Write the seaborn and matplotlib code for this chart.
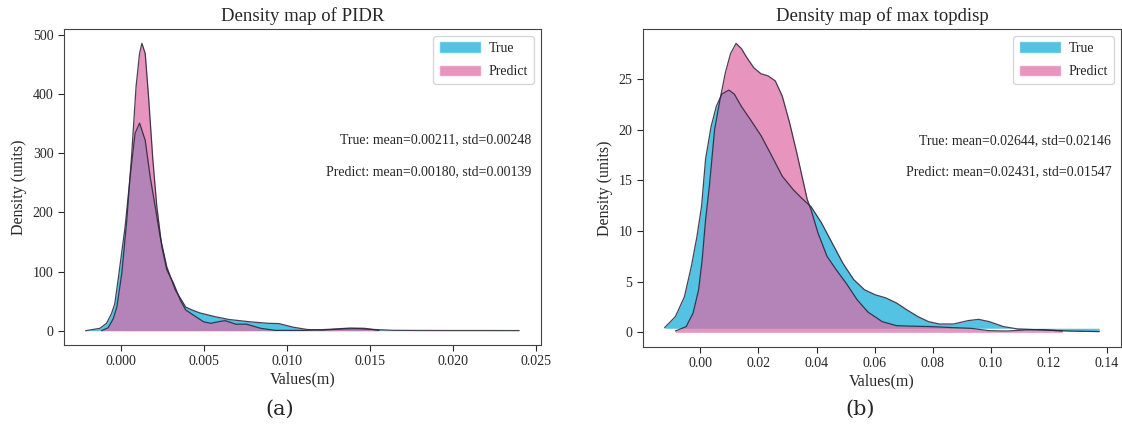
import numpy as np
import pandas as pd
import matplotlib
matplotlib.use('Agg')
import matplotlib.pyplot as plt
from matplotlib.patches import Patch
import seaborn as sns

# ---- data (density curves) ----
# (a) PIDR
pidr_true_x = [-0.00215, -0.00129, -0.00089, -0.00059, -0.00039, -0.00017, 0.00023, 0.00053,
               0.00083, 0.00110, 0.00144, 0.00174, 0.00204, 0.00234, 0.00274, 0.00325, 0.00388,
               0.00435, 0.00474, 0.0056, 0.00647, 0.00776, 0.00884, 0.0095, 0.01034, 0.0112,
               0.0121, 0.01336, 0.0142, 0.01552, 0.0164, 0.018, 0.020, 0.022, 0.02397]
pidr_true_d = [0, 4, 12.5, 29, 46, 91, 176, 260,
               334, 351, 322, 260, 210, 159, 108, 69, 40,
               34, 30, 24, 19, 15, 12.5, 12, 6, 2,
               1, 3, 3.4, 1.7, 0.6, 0.4, 0.3, 0.3, 0.2]
pidr_pred_x = [-0.00119, -0.00079, -0.00049, -0.00027, 0.00003, 0.00033, 0.00063, 0.00089,
               0.00110, 0.00124, 0.00144, 0.00164, 0.00190, 0.00214, 0.00244, 0.00274, 0.00315,
               0.00355, 0.00388, 0.00431, 0.00496, 0.00539, 0.00582, 0.00625, 0.0069, 0.00754,
               0.0084, 0.00927, 0.011, 0.0125, 0.0138, 0.01466, 0.01552]
pidr_pred_d = [0, 5, 20, 40, 97, 187, 300, 413,
               469, 486, 469, 396, 289, 210, 142, 103, 80,
               52, 35, 27, 15, 12.5, 15, 17, 11, 11,
               4, 0.6, 0.5, 2.3, 4.5, 4, 0.5]

# (b) max topdisp
disp_true_x = [-0.0123, -0.0086, -0.0055, -0.0031, -0.0012, 0.0004, 0.0018, 0.0037, 0.0055,
               0.0074, 0.0098, 0.0117, 0.0141, 0.0172, 0.0209, 0.0246, 0.0282, 0.0319, 0.0350,
               0.0381, 0.0417, 0.0454, 0.0491, 0.0528, 0.0565, 0.0602, 0.0638, 0.0675, 0.0712,
               0.0749, 0.0786, 0.0823, 0.0872, 0.0921, 0.0958, 0.0995, 0.1044, 0.1093, 0.1179,
               0.1265, 0.1373]
disp_true_d = [0.46, 1.55, 3.5, 6.5, 9.4, 12.4, 17.1, 20.3, 22.3,
               23.5, 23.9, 23.5, 22.3, 21.0, 19.4, 17.4, 15.4, 14.1, 13.2,
               12.4, 10.8, 8.8, 6.8, 5.2, 4.2, 3.7, 3.4, 2.9, 2.2,
               1.55, 1.05, 0.82, 0.82, 1.15, 1.28, 1.05, 0.56, 0.33, 0.23,
               0.13, 0.07]
disp_pred_x = [-0.0086, -0.0049, -0.0025, -0.0006, 0.0006, 0.0018, 0.0031, 0.0049, 0.0068,
               0.0086, 0.0104, 0.0123, 0.0141, 0.0160, 0.0184, 0.0209, 0.0233, 0.0258, 0.0282,
               0.0307, 0.0332, 0.0368, 0.0381, 0.0405, 0.0436, 0.0467, 0.0503, 0.0540, 0.0577,
               0.0626, 0.0675, 0.0712, 0.0798, 0.0872, 0.0933, 0.0995, 0.1056, 0.1117, 0.1179,
               0.1246]
disp_pred_d = [0.13, 0.56, 1.9, 4.2, 7.1, 11.1, 14.4, 20.0, 23.0,
               25.6, 27.5, 28.5, 28.0, 27.1, 26.1, 25.5, 25.3, 24.8, 23.3,
               20.7, 17.7, 13.1, 12.1, 9.8, 7.5, 6.2, 4.8, 3.2, 2.0,
               1.05, 0.66, 0.62, 0.56, 0.46, 0.39, 0.16, 0.13, 0.23, 0.26,
               0.13]

titles = ['Density map of PIDR', 'Density map of max topdisp']
stats_true = ['True: mean=0.00211, std=0.00248', 'True: mean=0.02644, std=0.02146']
stats_pred = ['Predict: mean=0.00180, std=0.00139', 'Predict: mean=0.02431, std=0.01547']
captions = ['(a)', '(b)']
true_base = [0, 0.4]   # the True fill in (b) sits a bit above zero

sns.set_style('ticks')
plt.rcParams['font.family'] = ['Liberation Serif', 'DejaVu Serif']

c_true = '#0ca9d8'
c_pred = '#de69a5'
edge = '#2a2236'
alpha = 0.7

fig = plt.figure(figsize=(11.22, 4.26), dpi=100)
ax1 = fig.add_axes([0.057, 0.19, 0.425, 0.742])
ax2 = fig.add_axes([0.573, 0.186, 0.426, 0.746])

panels = [(ax1, pidr_true_x, pidr_true_d, pidr_pred_x, pidr_pred_d),
          (ax2, disp_true_x, disp_true_d, disp_pred_x, disp_pred_d)]

for i, (ax, tx, td, px, pdn) in enumerate(panels):
    ax.fill_between(tx, true_base[i], td, color=c_true, alpha=alpha, linewidth=0)
    ax.fill_between(px, 0, pdn, color=c_pred, alpha=alpha, linewidth=0)
    sns.lineplot(x=tx, y=td, ax=ax, color=edge, linewidth=0.9, alpha=0.85, estimator=None)
    sns.lineplot(x=px, y=pdn, ax=ax, color=edge, linewidth=0.9, alpha=0.85, estimator=None)

    ax.set_title(titles[i], fontsize=13.5, pad=6)
    ax.set_xlabel('Values(m)', fontsize=11.5, labelpad=2)
    ax.set_ylabel('Density (units)', fontsize=11.5)
    ax.tick_params(labelsize=10, length=4)
    ax.text(0.98, 0.65, stats_true[i], transform=ax.transAxes, ha='right', va='center', fontsize=10)
    ax.text(0.98, 0.55, stats_pred[i], transform=ax.transAxes, ha='right', va='center', fontsize=10)
    handles = [Patch(facecolor=c_true, alpha=alpha, label='True'),
               Patch(facecolor=c_pred, alpha=alpha, label='Predict')]
    ax.legend(handles=handles, loc='upper right', fontsize=10, handlelength=3.0,
              handleheight=0.9, handletextpad=0.6, labelspacing=0.7)
    for s in ax.spines.values():
        s.set_color('#444444')

fig.text(0.2496, 0.04, captions[0], ha='center', va='center', fontsize=15, family='DejaVu Serif')
fig.text(0.767, 0.04, captions[1], ha='center', va='center', fontsize=15, family='DejaVu Serif')

fig.savefig('out.png', dpi=100)
